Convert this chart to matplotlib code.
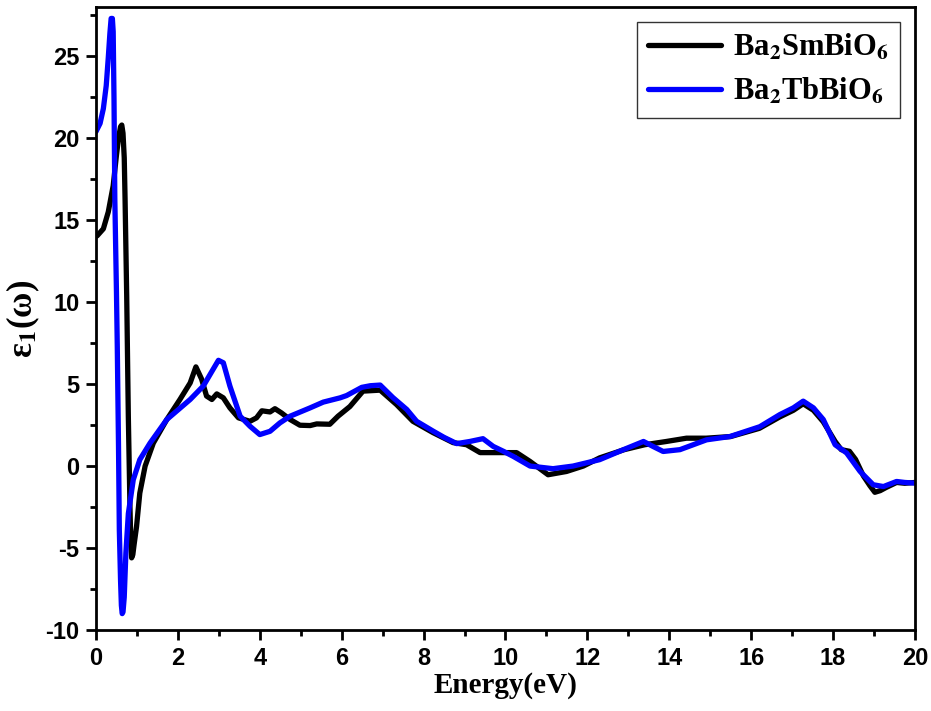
import numpy as np
import matplotlib
matplotlib.use('Agg')
import matplotlib.pyplot as plt
from matplotlib.ticker import MultipleLocator

# Ba2SmBiO6 (black)
sm_x = [0.0, 0.03, 0.18, 0.3, 0.42, 0.5, 0.55, 0.6, 0.63, 0.66, 0.69, 0.71, 0.75, 0.79, 0.83,
        0.85, 0.87, 0.9, 0.93, 0.99,
        1.07, 1.2, 1.4, 1.73, 2.05, 2.3, 2.44, 2.58, 2.7, 2.83, 2.95, 3.11, 3.27, 3.48, 3.76,
        3.92, 4.05, 4.25, 4.37, 4.53, 4.74, 4.98, 5.23, 5.39, 5.71, 5.91, 6.2, 6.52, 6.94, 7.34,
        7.74, 8.23, 8.72, 9.05, 9.38, 9.87, 10.27, 10.6, 11.04, 11.49, 11.9, 12.3, 12.9, 13.4,
        13.93, 14.42, 14.9, 15.5, 16.2, 16.7, 17.03, 17.27, 17.52, 17.76, 18.05, 18.2, 18.4,
        18.55, 18.74, 18.9, 19.02, 19.15, 19.3, 19.55, 19.75, 20.0]
sm_y = [14.0, 14.05, 14.47, 15.5, 17.1, 18.96, 20.0, 20.7, 20.8, 20.3, 18.8, 16.3, 10.4, 3.0, -2.5,
        -4.6, -5.6, -5.4, -4.8, -3.7,
        -1.65, 0.0, 1.4, 2.84, 4.06, 5.07, 6.05, 5.3, 4.27, 4.06, 4.4, 4.16, 3.55, 2.94, 2.73,
        2.94, 3.37, 3.3, 3.5, 3.24, 2.84, 2.49, 2.47, 2.57, 2.55, 3.04, 3.63, 4.57, 4.63, 3.75,
        2.73, 2.04, 1.43, 1.3, 0.82, 0.82, 0.82, 0.28, -0.53, -0.33, 0.0, 0.5, 1.0, 1.3,
        1.5, 1.7, 1.7, 1.8, 2.3, 3.0, 3.4, 3.8, 3.4, 2.7, 1.5, 1.0, 0.9,
        0.4, -0.6, -1.2, -1.6, -1.5, -1.3, -1.0, -1.05, -1.0]

# Ba2TbBiO6 (blue)
tb_x = [0.0, 0.1, 0.18, 0.25, 0.3, 0.34, 0.37, 0.4, 0.42, 0.44, 0.46, 0.5, 0.52, 0.55, 0.57, 0.6,
        0.62, 0.64, 0.66, 0.69, 0.73, 0.79, 0.91, 1.07, 1.32, 1.73, 2.3, 2.62, 2.86, 2.99, 3.11,
        3.27, 3.52,
        3.76, 4.0, 4.25, 4.49, 4.74, 5.23, 5.55, 5.96, 6.12, 6.49, 6.7, 6.94, 7.25, 7.59, 7.83,
        8.24, 8.5, 8.81, 9.13, 9.45, 9.7, 9.95, 10.19, 10.6, 11.16, 11.65, 12.3, 12.88, 13.37,
        13.6, 13.85, 14.26, 14.91, 15.48, 16.21, 16.7, 17.03, 17.27, 17.52, 17.76, 18.05, 18.33,
        18.66, 18.98, 19.23, 19.55, 19.75, 20.0]
tb_y = [20.4, 20.9, 21.8, 23.2, 24.9, 26.4, 27.3, 27.3, 26.5, 22.4, 16.3, 10.6, 7.3, 1.2, -3.9, -7.0,
        -8.5, -9.0, -8.9, -8.0, -5.3, -2.9, -0.84, 0.39, 1.4, 2.84, 4.06, 4.88, 5.9, 6.45, 6.3,
        4.88, 3.04,
        2.43, 1.92, 2.12, 2.63, 3.04, 3.55, 3.9, 4.16, 4.3, 4.8, 4.9, 4.94, 4.18, 3.45, 2.73,
        2.12, 1.75, 1.37, 1.5, 1.67, 1.2, 0.9, 0.59, 0.0, -0.16, 0.0, 0.39, 1.0, 1.5,
        1.2, 0.89, 1.0, 1.6, 1.8, 2.4, 3.14, 3.55, 3.96, 3.55, 2.84, 1.3, 0.8,
        -0.33, -1.14, -1.25, -0.94, -1.0, -1.04]

plt.rcParams['mathtext.fontset'] = 'stix'
plt.rcParams['axes.unicode_minus'] = False

fig = plt.figure(figsize=(9.31, 7.11), dpi=100)
ax = fig.add_axes([0.1031, 0.1139, 0.8797, 0.8763])

ax.plot(sm_x, sm_y, color='black', lw=3.8, solid_joinstyle='round', solid_capstyle='round',
        label=r'Ba$_\mathbf{2}$SmBiO$_\mathbf{6}$')
ax.plot(tb_x, tb_y, color='#0000ff', lw=3.8, solid_joinstyle='round', solid_capstyle='round',
        label=r'Ba$_\mathbf{2}$TbBiO$_\mathbf{6}$')

ax.set_xlim(0, 20)
ax.set_ylim(-10, 28)
ax.xaxis.set_major_locator(MultipleLocator(2))
ax.xaxis.set_minor_locator(MultipleLocator(1))
ax.yaxis.set_major_locator(MultipleLocator(5))
ax.yaxis.set_minor_locator(MultipleLocator(2.5))

ax.tick_params(which='major', direction='out', length=7, width=2, pad=5)
ax.tick_params(which='minor', direction='out', length=4, width=2)
for lab in ax.get_xticklabels() + ax.get_yticklabels():
    lab.set_fontfamily('Liberation Sans')
    lab.set_fontweight('bold')
    lab.set_fontsize(17)
for sp in ax.spines.values():
    sp.set_linewidth(2)

ax.set_xlabel('Energy(eV)', fontsize=21, fontweight='bold', family='Liberation Serif', labelpad=2)
ax.set_ylabel(r'ε$_\mathbf{1}$(ω)', fontsize=25, fontweight='bold', family='Liberation Serif', labelpad=2)

leg = ax.legend(loc='upper right', prop={'family': 'Liberation Serif', 'weight': 'bold', 'size': 22},
                frameon=True, fancybox=False, edgecolor='black', handlelength=2.4,
                borderaxespad=0.5, borderpad=0.35, handletextpad=0.4, labelspacing=0.45)
leg.get_frame().set_linewidth(1)

fig.savefig('out.png', dpi=100)
